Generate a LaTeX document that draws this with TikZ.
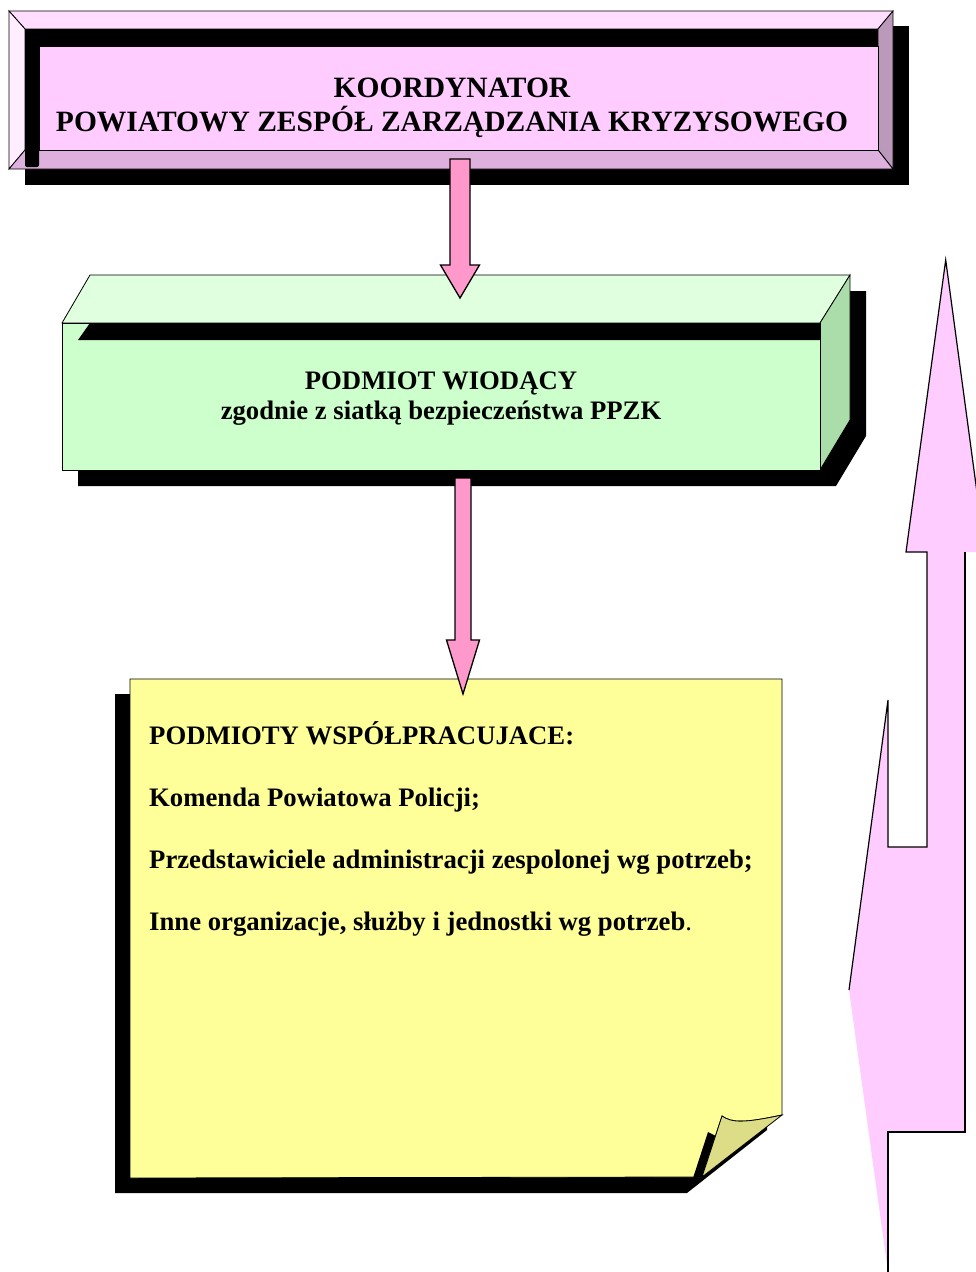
\documentclass[tikz,border=0pt]{standalone}
\usepackage{fontspec}
\setmainfont{Liberation Serif}
\usetikzlibrary{calc}
\definecolor{bevtop}{HTML}{FFDDFF}
\definecolor{bevleft}{HTML}{FFEEFF}
\definecolor{bevright}{HTML}{BB99BB}
\definecolor{bevbottom}{HTML}{DDB0DD}
\definecolor{pinkface}{HTML}{FFCCFF}
\definecolor{arrowpink}{HTML}{FF99CC}
\definecolor{greenface}{HTML}{CCFFCC}
\definecolor{greentop}{HTML}{DFFFDF}
\definecolor{greenside}{HTML}{AADDAA}
\definecolor{noteyellow}{HTML}{FFFF99}
\definecolor{noteflap}{HTML}{DDDD88}
\tikzset{edge/.style={draw=black, line width=0.8pt}}
\tikzset{arrowbody/.style={fill=arrowpink, draw=black, line width=1.3pt}}
\tikzset{headline/.style={font=\fontsize{29.5}{34}\selectfont\bfseries, anchor=base, inner sep=0pt}}
\tikzset{leadline/.style={font=\fontsize{26.7}{30}\selectfont\bfseries, anchor=base, inner sep=0pt}}
\tikzset{noteline/.style={font=\fontsize{26.7}{30}\selectfont\bfseries, anchor=base west, inner sep=0pt}}

% #1 from, #2 to, #3 half shaft, #4 half head, #5 head length
\newcommand{\pinkarrow}[5]{%
  \path[arrowbody] let \p1=(#1), \p2=(#2) in
    (\x1-#3,\y1) -- (\x1+#3,\y1) -- (\x1+#3,\y2+#5) -- (\x1+#4,\y2+#5)
    -- (\x2,\y2) -- (\x1-#4,\y2+#5) -- (\x1-#3,\y2+#5) -- cycle;}

\begin{document}
\begin{tikzpicture}[x=1pt,y=-1pt]
\useasboundingbox (0,0) rectangle (976,1272);

% koordynator
\fill (25,26) rectangle (909,185);
\filldraw[fill=bevtop, edge] (9,11) -- (893,11) -- (878,29) -- (25,29) -- cycle;
\filldraw[fill=bevleft, edge] (9,11) -- (25,29) -- (25,150) -- (9,169) -- cycle;
\filldraw[fill=bevright, edge] (893,11) -- (893,169) -- (878,150) -- (878,29) -- cycle;
\filldraw[fill=bevbottom, edge] (9,169) -- (25,150) -- (878,150) -- (893,169) -- cycle;
\fill (25,29) rectangle (878,46);
\fill[rounded corners=2pt] (25,29) rectangle (39,167);
\filldraw[fill=pinkface, edge] (39,46) rectangle (878,150);
\node[headline] (koord) at (452,97) {KOORDYNATOR};
\node[headline] (pzzk) at (452,131) {POWIATOWY ZESPÓŁ ZARZĄDZANIA KRYZYSOWEGO};

% podmiot wiodacy
\fill (78,339) -- (106,291) -- (866,291) -- (866,436) -- (836,486) -- (78,486) -- cycle;
\filldraw[fill=greentop, edge] (62,323) -- (90,275) -- (850,275) -- (820,323) -- cycle;
\filldraw[fill=greenside, edge] (820,323) -- (850,275) -- (850,420) -- (820,470) -- cycle;
\filldraw[fill=greenface, edge] (62,323) rectangle (820,470);
\fill (78,340) -- (90,323) -- (820,323) -- (820,340) -- cycle;
\node[leadline] (lead) at (441,389) {PODMIOT WIODĄCY};
\node[leadline] (leadsub) at (441,419) {zgodnie z siatką bezpieczeństwa PPZK};

% podmioty wspolpracujace
\fill (115,694) -- (767,694) -- (767,1130) -- (687,1193) -- (115,1193) -- cycle;
\filldraw[fill=noteyellow, edge] (130,679) -- (782,679) -- (782,1115)
  .. controls (744,1123) and (732,1123) .. (722,1116)
  -- (702,1177) -- (130,1178) -- cycle;
\fill (693,1178) -- (708,1132) -- (716,1136) -- (702,1177) -- cycle;
\filldraw[fill=noteflap, edge] (702,1177) -- (722,1116)
  .. controls (732,1123) and (744,1123) .. (782,1115) -- cycle;
\foreach \t [count=\i] in {PODMIOTY WSPÓŁPRACUJACE:, Komenda Powiatowa Policji;,
    Przedstawiciele administracji zespolonej wg potrzeb;,
    {Inne organizacje, służby i jednostki wg potrzeb\textmd{.}}}{
  \node[noteline] (coop\i) at (149,744+62*\i-62) {\t};
}

% strzalki w dol
\coordinate (a1s) at (460,159);
\coordinate (a1e) at (460,298);
\coordinate (a2s) at (463,478);
\coordinate (a2e) at (463,694);
\pinkarrow{a1s}{a1e}{10pt}{19.5pt}{33pt}
\pinkarrow{a2s}{a2e}{8pt}{16.5pt}{54pt}

% strzalka zwrotna
\fill[pinkface] (849,990) -- (888,700) -- (888,847) -- (927,847) -- (927,552)
  -- (906,552) -- (945.7,260) -- (985,552) -- (965,552) -- (965,1132)
  -- (888,1132) -- (888,1272) -- cycle;
\draw[black, line width=1.2pt] (849,990) -- (888,700) -- (888,847) -- (927,847)
  -- (927,552) -- (906,552) -- (945.7,260) -- (985,552);
\draw[black, line width=1.2pt] (965,552) -- (965,1132) -- (888,1132) -- (888,1272);
\end{tikzpicture}
\end{document}
